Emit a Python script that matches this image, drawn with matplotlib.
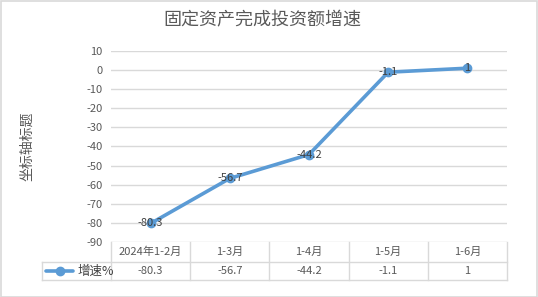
import matplotlib
matplotlib.use("Agg")
import matplotlib.pyplot as plt
from matplotlib.lines import Line2D
from matplotlib.patches import Rectangle
import matplotlib.transforms as mtransforms

plt.rcParams['font.family'] = ['Noto Sans CJK SC', 'DejaVu Sans']

title = "固定资产完成投资额增速"
categories = ["2024年1-2月", "1-3月", "1-4月", "1-5月", "1-6月"]
series_name = "增速%"
values = [-80.3, -56.7, -44.2, -1.1, 1]
labels = ["-80.3", "-56.7", "-44.2", "-1.1", "1"]
yticks = list(range(-90, 11, 10))
ylabel = "坐标轴标题"

W, H = 538, 297
fig = plt.figure(figsize=(W / 100, H / 100), dpi=100)
fig.patch.set_facecolor("white")
fig.patches.append(Rectangle((0.5 / W, 0.5 / H), 1 - 1.5 / W, 1 - 1.5 / H, transform=fig.transFigure,
                             fill=False, edgecolor="#D9D9D9", linewidth=1.2))

left, right, top, bottom = 111, 507, 51, 242
ax = fig.add_axes([left / W, 1 - bottom / H, (right - left) / W, (bottom - top) / H])
ax.set_xlim(-0.5, len(categories) - 0.5)
ax.set_ylim(-90, 10)
for s in ax.spines.values():
    s.set_visible(False)
ax.set_yticks(yticks)
ax.set_yticklabels([str(t) for t in yticks], fontsize=8, color="#595959")
ax.tick_params(axis="y", length=0, pad=6)
ax.set_xticks([])
ax.grid(axis="y", color="#D9D9D9", linewidth=1)
ax.set_axisbelow(True)

color = "#5B9BD5"
x = list(range(len(categories)))
ax.plot(x, values, color=color, linewidth=2.6, marker="o", markersize=6, zorder=3, solid_capstyle="round")
for xi, v, lab in zip(x, values, labels):
    ax.text(xi, v, lab, ha="center", va="center", fontsize=8, color="#404040", zorder=4)

fig.text(262 / W, 1 - 20 / H, title, ha="center", va="center", fontsize=13, color="#595959")
fig.text(27 / W, 1 - 146 / H, ylabel, ha="center", va="center", rotation=90, fontsize=10, color="#595959")

# data table below the axes
trans = mtransforms.blended_transform_factory(ax.transData, fig.transFigure)
figtr = fig.transFigure
ty0, ty1, ty2 = 1 - 242 / H, 1 - 262 / H, 1 - 280 / H
gc = "#D9D9D9"
x_left_leg = 42 / W
x_ax_left = left / W
x_ax_right = right / W
fig.add_artist(Line2D([x_left_leg, x_ax_right], [ty1, ty1], transform=figtr, color=gc, lw=1))
fig.add_artist(Line2D([x_left_leg, x_ax_right], [ty2, ty2], transform=figtr, color=gc, lw=1))
fig.add_artist(Line2D([x_left_leg, x_left_leg], [ty1, ty2], transform=figtr, color=gc, lw=1))
for b in [i - 0.5 for i in range(len(categories) + 1)]:
    fig.add_artist(Line2D([b, b], [ty0, ty2], transform=trans, color=gc, lw=1))
for xi, c, lab in zip(x, categories, labels):
    fig.text(xi, (ty0 + ty1) / 2, c, transform=trans, ha="center", va="center", fontsize=8, color="#595959")
    fig.text(xi, (ty1 + ty2) / 2, lab, transform=trans, ha="center", va="center", fontsize=8, color="#595959")
ky = (ty1 + ty2) / 2
fig.add_artist(Line2D([46 / W, 73 / W], [ky, ky], transform=figtr, color=color, lw=2.6,
                      solid_capstyle="round"))
fig.add_artist(Line2D([59.5 / W], [ky], transform=figtr, color=color, marker="o", markersize=6))
fig.text(78 / W, ky, series_name, ha="left", va="center", fontsize=9, color="#404040")

fig.savefig("out.png", dpi=100, facecolor="white")
